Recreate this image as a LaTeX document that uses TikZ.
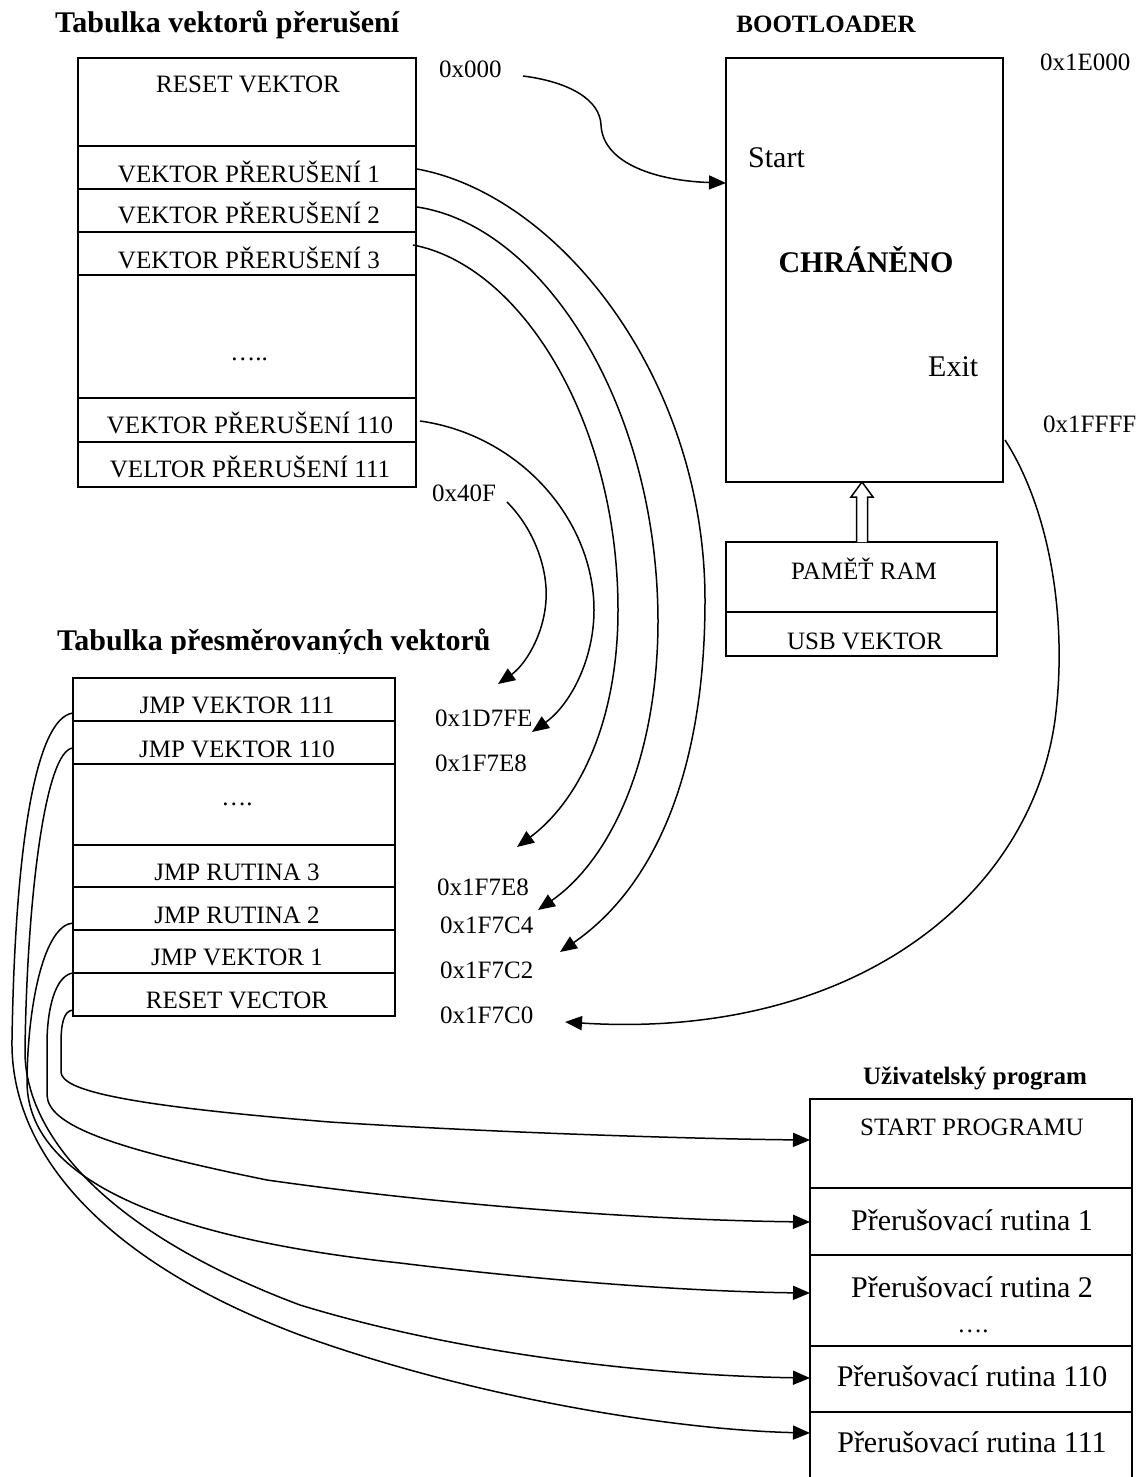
\documentclass[tikz,border=0pt]{standalone}
\usepackage{fontspec}
\setmainfont{Liberation Serif}
\usetikzlibrary{arrows.meta}
\begin{document}
\begin{tikzpicture}[x=1pt,y=-1pt,
  box/.style={line width=1.9pt},
  link/.style={line width=1.5pt,-{Triangle[length=17pt,width=14pt]}},
  txt/.style={inner sep=0pt,anchor=base,font=\fontsize{25}{30}\selectfont},
  big/.style={inner sep=0pt,anchor=base,font=\fontsize{30}{36}\selectfont},
  bigbold/.style={inner sep=0pt,anchor=base,font=\fontsize{30}{36}\selectfont\bfseries},
  headsm/.style={inner sep=0pt,anchor=base,font=\fontsize{25}{30}\selectfont\bfseries},
  addr/.style={txt,anchor=base west}]
\useasboundingbox[fill=white] (0,0) rectangle (1143,1477);

% ---------- interrupt vector table ----------
\node[bigbold,anchor=base west] (title1) at (55,33) {Tabulka vektorů přerušení};
\draw[box] (78,58) rectangle (416,487);
\foreach \y in {146,189,232,275,398,442} \draw[box] (78,\y) -- (416,\y);
\node[txt] (rv)   at (248,93)  {RESET VEKTOR};
\node[txt] (v1)   at (249,182) {VEKTOR PŘERUŠENÍ 1};
\node[txt] (v2)   at (249,223) {VEKTOR PŘERUŠENÍ 2};
\node[txt] (v3)   at (249,268) {VEKTOR PŘERUŠENÍ 3};
\node[txt] (vdots) at (249,360) {…..};
\node[txt] (v110) at (250,433) {VEKTOR PŘERUŠENÍ 110};
\node[txt] (v111) at (250,477) {VELTOR PŘERUŠENÍ 111};

\node[addr] (a000) at (439,78)  {0x000};
\node[addr] (a40f) at (432,501) {0x40F};

% ---------- bootloader ----------
\node[headsm] (bl) at (826,33) {BOOTLOADER};
\draw[box] (726,58) rectangle (1003,482);
\node[big,anchor=base west] (st) at (748,167) {Start};
\node[bigbold] (ch) at (866,272) {CHRÁNĚNO};
\node[big,anchor=base west] (ex) at (928,376) {Exit};
\node[addr] (a1e) at (1040,71)  {0x1E000};
\node[addr] (a1f) at (1043,432) {0x1FFFF};

% RAM block and its hollow arrow into the bootloader
\draw[box] (726,542) rectangle (997,656);
\draw[box] (726,612) -- (997,612);
\node[txt] (ram) at (864,579) {PAMĚŤ RAM};
\node[txt] (usb) at (865,649) {USB VEKTOR};
\draw[line width=1.5pt,fill=white] (856.5,542) -- (856.5,497) -- (851,497) -- (862,482)
  -- (873,497) -- (867.5,497) -- (867.5,542);

% ---------- redirected vector table ----------
\begin{scope}
  \clip (0,600) rectangle (600,653);
  \node[bigbold,anchor=base west] (title2) at (57,650) {Tabulka přesměrovaných vektorů};
\end{scope}
\draw[box] (73,678) rectangle (395,1016);
\foreach \y in {721,764,845,887,930,973} \draw[box] (73,\y) -- (395,\y);
\node[txt] (j111) at (237,713)  {JMP VEKTOR 111};
\node[txt] (j110) at (237,757)  {JMP VEKTOR 110};
\node[txt] (jdots) at (237,805) {….};
\node[txt] (jr3)  at (237,880)  {JMP RUTINA 3};
\node[txt] (jr2)  at (237,923)  {JMP RUTINA 2};
\node[txt] (jv1)  at (237,965)  {JMP VEKTOR 1};
\node[txt] (jrs)  at (237,1008) {RESET VECTOR};

\node[addr] (b1) at (435,726)  {0x1D7FE};
\node[addr] (b2) at (435,771)  {0x1F7E8};
\node[addr] (b3) at (437,895)  {0x1F7E8};
\node[addr] (b4) at (440,933)  {0x1F7C4};
\node[addr] (b5) at (440,978)  {0x1F7C2};
\node[addr] (b6) at (440,1023) {0x1F7C0};

% ---------- user program ----------
\node[headsm] (up) at (975,1084) {Uživatelský program};
\draw[box] (810,1477) -- (810,1099) -- (1132,1099) -- (1132,1477);
\foreach \y in {1188,1255,1346,1412} \draw[box] (810,\y) -- (1132,\y);
\node[txt] (sp)   at (972,1135) {START PROGRAMU};
\node[big] (r1)   at (972,1230) {Přerušovací rutina 1};
\node[big] (r2)   at (972,1297) {Přerušovací rutina 2};
\node[txt] (rdots) at (973,1332) {….};
\node[big] (r110) at (972,1386) {Přerušovací rutina 110};
\node[big] (r111) at (972,1452) {Přerušovací rutina 111};

% ---------- connector end points ----------
\coordinate (c0s) at (523,76);   \coordinate (c0t) at (726,183);
\coordinate (c1s) at (417,169);  \coordinate (c1t) at (560,952);
\coordinate (c2s) at (417,207);  \coordinate (c2t) at (538,910);
\coordinate (c3s) at (413,245);  \coordinate (c3t) at (517,847);
\coordinate (c4s) at (420,421);  \coordinate (c4t) at (532,732);
\coordinate (c5s) at (507,502);  \coordinate (c5t) at (498,684);
\coordinate (c6s) at (1005,440); \coordinate (c6t) at (565,1022);

\coordinate (ja) at (73,713);  \coordinate (ta) at (810,1433);
\coordinate (jb) at (73,748);  \coordinate (tb) at (810,1378);
\coordinate (jc) at (73,923);  \coordinate (tc) at (810,1293);
\coordinate (jd) at (73,973);  \coordinate (td) at (810,1222);
\coordinate (je) at (73,1010); \coordinate (te) at (810,1140);

% ---------- connectors ----------
\draw[link] (c0s) .. controls (570,82) and (600,100) .. (601,125)
  .. controls (603,165) and (660,181) .. (c0t);
\draw[link] (c1s) .. controls (560,195) and (705,380) .. (705,600)
  .. controls (705,780) and (650,890) .. (c1t);
\draw[link] (c2s) .. controls (540,225) and (657,400) .. (658,620)
  .. controls (658,760) and (610,860) .. (c2t);
\draw[link] (c3s) .. controls (520,265) and (618,420) .. (618,610)
  .. controls (618,720) and (580,800) .. (c3t);
\draw[link] (c4s) .. controls (520,435) and (594,520) .. (594,610)
  .. controls (594,660) and (570,705) .. (c4t);
\draw[link] (c5s) .. controls (535,530) and (548,570) .. (546,600)
  .. controls (544,635) and (525,665) .. (c5t);
\draw[link] (c6s) .. controls (1050,510) and (1068,620) .. (1055,720)
  .. controls (1030,900) and (850,1040) .. (c6t);

\draw[link] (ja) .. controls (35,718) and (15,850) .. (12,1040)
  .. controls (10,1150) and (100,1260) .. (300,1335)
  .. controls (480,1400) and (680,1430) .. (ta);
\draw[link] (jb) .. controls (45,750) and (27,900) .. (25,1050)
  .. controls (24,1130) and (100,1230) .. (300,1305)
  .. controls (480,1360) and (680,1376) .. (tb);
\draw[link] (jc) .. controls (45,925) and (28,1000) .. (27,1080)
  .. controls (26,1170) and (140,1235) .. (400,1263)
  .. controls (580,1285) and (720,1292) .. (tc);
\draw[link] (jd) .. controls (58,975) and (48,1000) .. (47,1040)
  -- (47,1095) .. controls (48,1125) and (110,1148) .. (267,1180)
  .. controls (450,1206) and (650,1220) .. (td);
\draw[link] (je) .. controls (63,1011) and (61,1025) .. (61,1045)
  -- (61,1072) .. controls (62,1090) and (120,1105) .. (330,1122)
  .. controls (500,1133) and (700,1139) .. (te);
\end{tikzpicture}
\end{document}
